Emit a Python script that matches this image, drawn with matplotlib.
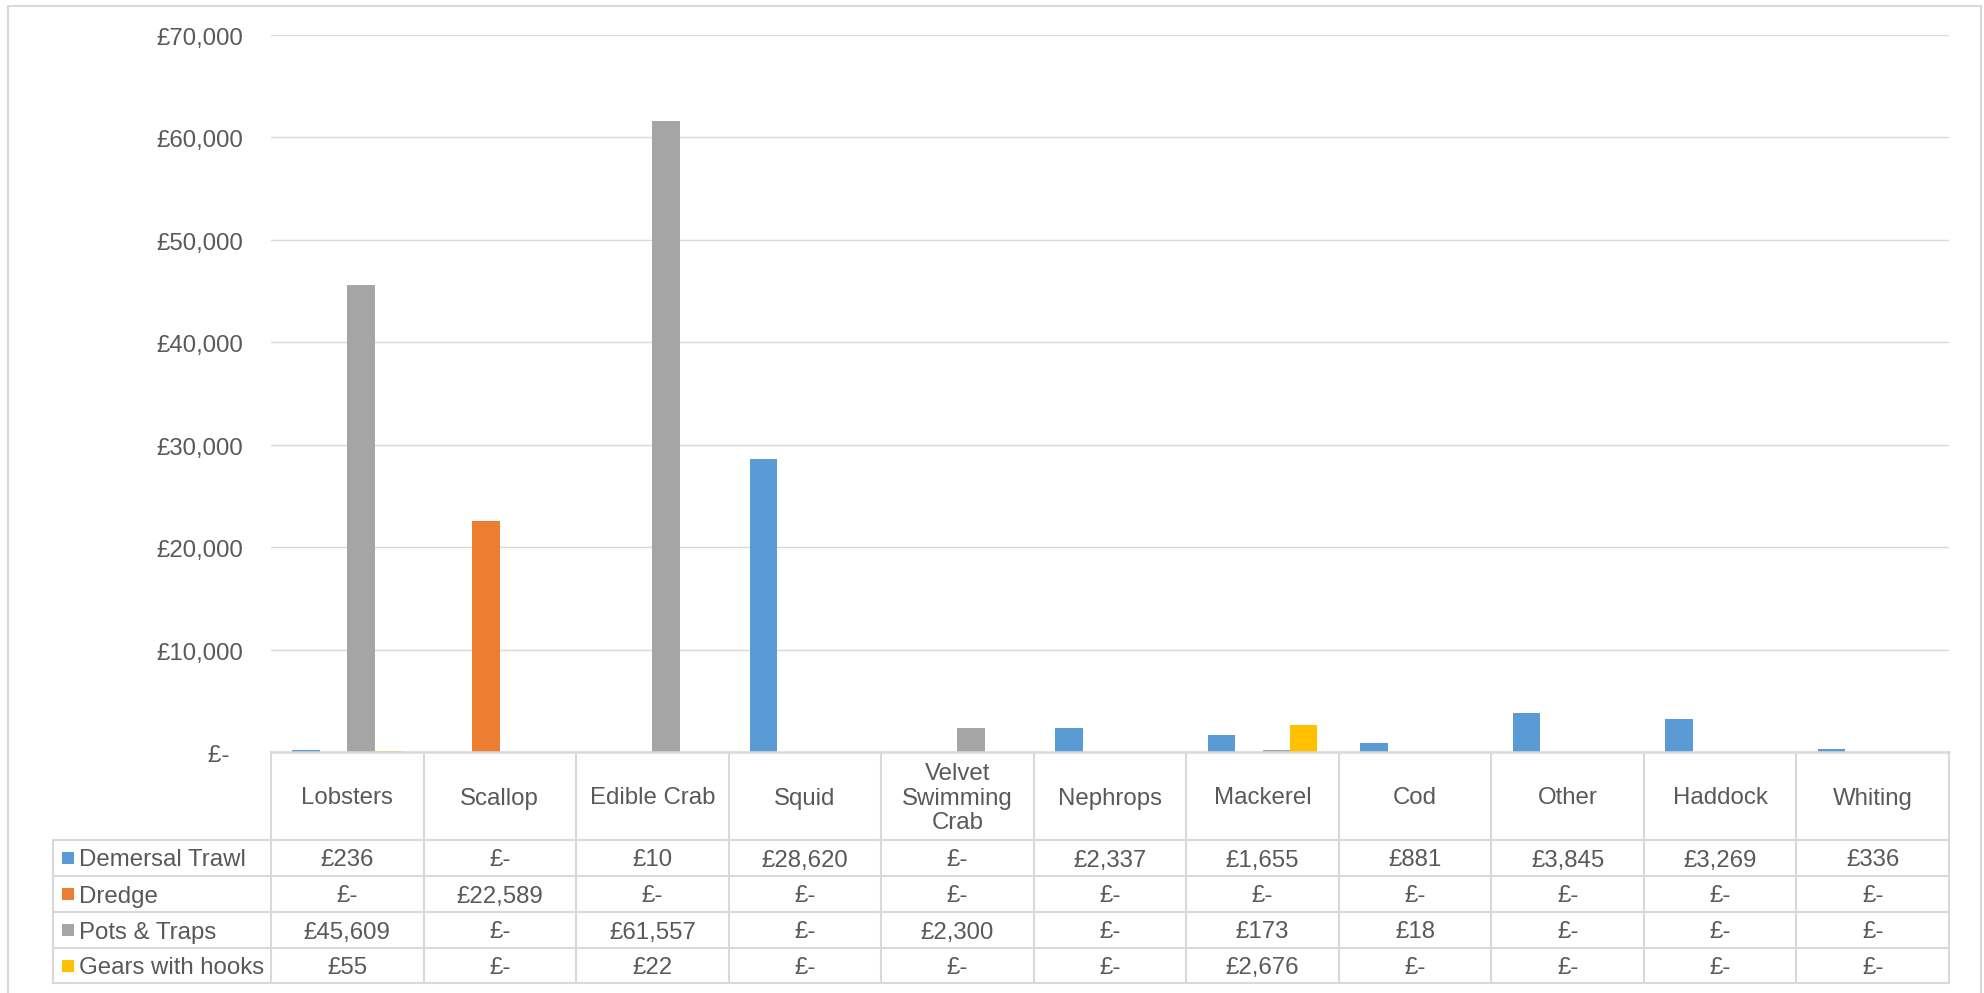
import matplotlib
matplotlib.use("Agg")
import matplotlib.pyplot as plt
from matplotlib.lines import Line2D
from matplotlib.patches import Rectangle
from matplotlib.transforms import blended_transform_factory, ScaledTranslation
import numpy as np

plt.rcParams['font.family'] = ['Liberation Sans', 'DejaVu Sans']

categories = ["Lobsters", "Scallop", "Edible Crab", "Squid", "Velvet\nSwimming\nCrab",
              "Nephrops", "Mackerel", "Cod", "Other", "Haddock", "Whiting"]
series_names = ["Demersal Trawl", "Dredge", "Pots & Traps", "Gears with hooks"]
demersal_trawl = [236, 0, 10, 28620, 0, 2337, 1655, 881, 3845, 3269, 336]
dredge = [0, 22589, 0, 0, 0, 0, 0, 0, 0, 0, 0]
pots_traps = [45609, 0, 61557, 0, 2300, 0, 173, 18, 0, 0, 0]
gears_hooks = [55, 0, 22, 0, 0, 0, 2676, 0, 0, 0, 0]
y_ticks = [0, 10000, 20000, 30000, 40000, 50000, 60000, 70000]

series = [demersal_trawl, dredge, pots_traps, gears_hooks]
colors = ["#5B9BD5", "#ED7D31", "#A5A5A5", "#FFC000"]
text_color = "#595959"
line_color = "#D9D9D9"
fs = 17.3

W, H = 1984, 993


def fx(px):
    return px / W


def fy(py):
    return 1 - py / H


def money(v):
    return "£-" if v == 0 else "£{:,}".format(v)


fig = plt.figure(figsize=(W / 100, H / 100), dpi=100)
# text sits slightly below the geometric cell centre
drop = 2.5 / H

# outer chart frame
fig.add_artist(Rectangle((fx(8), fy(1000)), fx(1981) - fx(8), fy(6) - fy(1000),
                         transform=fig.transFigure, fill=False,
                         edgecolor=line_color, lw=1.5))

left, right, top, base = 271, 1949, 35, 752
ax = fig.add_axes([fx(left), fy(base), fx(right) - fx(left), fy(top) - fy(base)])

n = len(categories)
x = np.arange(n)
bw = 0.18
for i, (vals, col) in enumerate(zip(series, colors)):
    ax.bar(x + (i - 1.5) * bw, vals, bw, color=col, zorder=3, linewidth=0)

ax.set_xlim(-0.5, n - 0.5)
ax.set_ylim(0, 70000)
ax.set_yticks(y_ticks)
ax.set_yticklabels([money(v) + ("  " if v == 0 else "") for v in y_ticks],
                   fontsize=fs, color=text_color)
ax.tick_params(axis='y', length=0, pad=20)
for lab in ax.get_yticklabels():
    lab.set_transform(lab.get_transform() + ScaledTranslation(0, -0.015, fig.dpi_scale_trans))
ax.set_xticks([])
ax.grid(axis='y', color=line_color, lw=1.0, zorder=0)
for s in ax.spines.values():
    s.set_visible(False)

# data table below the plot
row_lines = [752, 840, 876, 912, 948, 983]
legend_left = 53
tr = blended_transform_factory(ax.transData, fig.transFigure)

def hline(y, x0, x1, lw=1.5):
    fig.add_artist(Line2D([fx(x0), fx(x1)], [fy(y), fy(y)], transform=fig.transFigure,
                          color=line_color, lw=lw, zorder=5))

def vline(xp, y0, y1):
    fig.add_artist(Line2D([fx(xp), fx(xp)], [fy(y0), fy(y1)], transform=fig.transFigure,
                          color=line_color, lw=1.5, zorder=5))

hline(row_lines[0], left, right, lw=1.8)
for y in row_lines[1:]:
    hline(y, legend_left, right)

col_edges = np.linspace(left, right, n + 1)
for xe in col_edges:
    vline(xe, row_lines[0], row_lines[-1])
vline(legend_left, row_lines[1], row_lines[-1])

header_cy = (row_lines[0] + row_lines[1]) / 2
for i, cat in enumerate(categories):
    fig.text(i, fy(header_cy) - drop, cat, transform=tr, ha='center', va='center',
             fontsize=fs, color=text_color, linespacing=1.15)

for r, (name, vals, col) in enumerate(zip(series_names, series, colors)):
    cy = (row_lines[r + 1] + row_lines[r + 2]) / 2
    fig.add_artist(Rectangle((fx(62), fy(cy + 6)), fx(12), 12 / H,
                             transform=fig.transFigure, color=col, lw=0))
    fig.text(fx(79), fy(cy) - drop, name, ha='left', va='center',
             fontsize=fs, color=text_color)
    for i, v in enumerate(vals):
        fig.text(i, fy(cy) - drop, money(v), transform=tr, ha='center', va='center',
                 fontsize=fs, color=text_color)

fig.savefig("out.png", dpi=100)
